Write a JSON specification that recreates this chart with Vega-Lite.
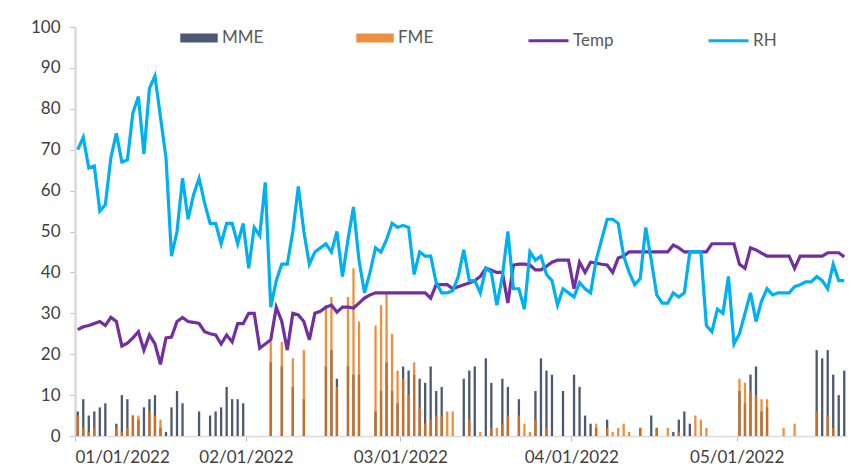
{
  "$schema": "https://vega.github.io/schema/vega-lite/v6.json",
  "width": 772,
  "height": 409,
  "autosize": {"type": "none"},
  "padding": {"left": 75, "top": 27, "right": 4, "bottom": 34},
  "background": "white",
  "config": {"view": {"stroke": null}, "font": "Lato"},
  "data": {"values": [
    {"date":"2022/01/01","MME":6,"FME":5,"Temp":26,"RH":70},
    {"date":"2022/01/02","MME":9,"FME":2,"Temp":26.7,"RH":73},
    {"date":"2022/01/03","MME":5,"FME":1,"Temp":27,"RH":65.5},
    {"date":"2022/01/04","MME":6,"FME":2,"Temp":27.5,"RH":66},
    {"date":"2022/01/05","MME":7,"FME":0,"Temp":28,"RH":55},
    {"date":"2022/01/06","MME":8,"FME":0,"Temp":27,"RH":56.5},
    {"date":"2022/01/07","MME":0,"FME":0,"Temp":29,"RH":68},
    {"date":"2022/01/08","MME":3,"FME":2,"Temp":28,"RH":74},
    {"date":"2022/01/09","MME":10,"FME":1,"Temp":22,"RH":67},
    {"date":"2022/01/10","MME":9,"FME":2,"Temp":22.7,"RH":67.5},
    {"date":"2022/01/11","MME":5,"FME":5,"Temp":24,"RH":79},
    {"date":"2022/01/12","MME":4,"FME":5,"Temp":25.5,"RH":83},
    {"date":"2022/01/13","MME":7,"FME":0,"Temp":21,"RH":69},
    {"date":"2022/01/14","MME":9,"FME":6,"Temp":24.7,"RH":85},
    {"date":"2022/01/15","MME":10,"FME":5,"Temp":22.5,"RH":88},
    {"date":"2022/01/16","MME":2,"FME":4,"Temp":17.5,"RH":78},
    {"date":"2022/01/17","MME":1,"FME":0,"Temp":24,"RH":68},
    {"date":"2022/01/18","MME":7,"FME":0,"Temp":24.2,"RH":44},
    {"date":"2022/01/19","MME":11,"FME":0,"Temp":28,"RH":50},
    {"date":"2022/01/20","MME":8,"FME":0,"Temp":29,"RH":63},
    {"date":"2022/01/21","MME":0,"FME":0,"Temp":28,"RH":53},
    {"date":"2022/01/22","MME":0,"FME":0,"Temp":27.8,"RH":59},
    {"date":"2022/01/23","MME":6,"FME":0,"Temp":27.5,"RH":63},
    {"date":"2022/01/24","MME":0,"FME":0,"Temp":25.5,"RH":57},
    {"date":"2022/01/25","MME":5,"FME":0,"Temp":25,"RH":52},
    {"date":"2022/01/26","MME":6,"FME":0,"Temp":24.7,"RH":52},
    {"date":"2022/01/27","MME":7,"FME":0,"Temp":22.5,"RH":47},
    {"date":"2022/01/28","MME":12,"FME":0,"Temp":24.7,"RH":52},
    {"date":"2022/01/29","MME":9,"FME":0,"Temp":23,"RH":52},
    {"date":"2022/01/30","MME":9,"FME":0,"Temp":27.5,"RH":47},
    {"date":"2022/01/31","MME":8,"FME":0,"Temp":27.5,"RH":52},
    {"date":"2022/02/01","MME":0,"FME":0,"Temp":30,"RH":41},
    {"date":"2022/02/02","MME":0,"FME":0,"Temp":30,"RH":51},
    {"date":"2022/02/03","MME":0,"FME":0,"Temp":21.5,"RH":49},
    {"date":"2022/02/04","MME":0,"FME":0,"Temp":22.5,"RH":62},
    {"date":"2022/02/05","MME":18,"FME":23,"Temp":23.5,"RH":31.5},
    {"date":"2022/02/06","MME":0,"FME":0,"Temp":31.5,"RH":38},
    {"date":"2022/02/07","MME":17,"FME":23,"Temp":28,"RH":42},
    {"date":"2022/02/08","MME":0,"FME":0,"Temp":21,"RH":42},
    {"date":"2022/02/09","MME":12,"FME":19,"Temp":30,"RH":50},
    {"date":"2022/02/10","MME":0,"FME":0,"Temp":29.6,"RH":61},
    {"date":"2022/02/11","MME":9,"FME":21,"Temp":28,"RH":50},
    {"date":"2022/02/12","MME":0,"FME":0,"Temp":23.5,"RH":42},
    {"date":"2022/02/13","MME":0,"FME":0,"Temp":30,"RH":45},
    {"date":"2022/02/14","MME":0,"FME":0,"Temp":30.5,"RH":46},
    {"date":"2022/02/15","MME":17,"FME":32,"Temp":31.5,"RH":47},
    {"date":"2022/02/16","MME":21,"FME":34,"Temp":32,"RH":45},
    {"date":"2022/02/17","MME":14,"FME":12,"Temp":30.3,"RH":50},
    {"date":"2022/02/18","MME":0,"FME":0,"Temp":31.5,"RH":39},
    {"date":"2022/02/19","MME":17,"FME":34,"Temp":31.5,"RH":48},
    {"date":"2022/02/20","MME":15,"FME":41,"Temp":31.3,"RH":56},
    {"date":"2022/02/21","MME":15,"FME":28,"Temp":32.5,"RH":43},
    {"date":"2022/02/22","MME":0,"FME":0,"Temp":33.7,"RH":35},
    {"date":"2022/02/23","MME":0,"FME":0,"Temp":34.5,"RH":40},
    {"date":"2022/02/24","MME":6,"FME":27,"Temp":35,"RH":46},
    {"date":"2022/02/25","MME":11,"FME":32,"Temp":35,"RH":45},
    {"date":"2022/02/26","MME":18,"FME":35,"Temp":35,"RH":48},
    {"date":"2022/02/27","MME":11,"FME":25,"Temp":35,"RH":52},
    {"date":"2022/02/28","MME":8,"FME":16,"Temp":35,"RH":51},
    {"date":"2022/03/01","MME":17,"FME":14,"Temp":35,"RH":51.5},
    {"date":"2022/03/02","MME":16,"FME":10,"Temp":35,"RH":51},
    {"date":"2022/03/03","MME":15,"FME":18,"Temp":35,"RH":39.5},
    {"date":"2022/03/04","MME":14,"FME":7,"Temp":35,"RH":45},
    {"date":"2022/03/05","MME":13,"FME":3,"Temp":35,"RH":44},
    {"date":"2022/03/06","MME":17,"FME":4,"Temp":33.7,"RH":44},
    {"date":"2022/03/07","MME":11,"FME":5,"Temp":37,"RH":37.5},
    {"date":"2022/03/08","MME":12,"FME":5,"Temp":37,"RH":35},
    {"date":"2022/03/09","MME":0,"FME":6,"Temp":37,"RH":35},
    {"date":"2022/03/10","MME":0,"FME":6,"Temp":36,"RH":35.5},
    {"date":"2022/03/11","MME":0,"FME":0,"Temp":36.5,"RH":39},
    {"date":"2022/03/12","MME":14,"FME":0,"Temp":37,"RH":45.5},
    {"date":"2022/03/13","MME":16,"FME":4,"Temp":37.4,"RH":38},
    {"date":"2022/03/14","MME":17,"FME":0,"Temp":38,"RH":38},
    {"date":"2022/03/15","MME":0,"FME":1,"Temp":39,"RH":35},
    {"date":"2022/03/16","MME":19,"FME":0,"Temp":41,"RH":41},
    {"date":"2022/03/17","MME":13,"FME":2,"Temp":40.5,"RH":40},
    {"date":"2022/03/18","MME":0,"FME":2,"Temp":40,"RH":32},
    {"date":"2022/03/19","MME":14,"FME":3,"Temp":40,"RH":39},
    {"date":"2022/03/20","MME":12,"FME":5,"Temp":32.5,"RH":50},
    {"date":"2022/03/21","MME":0,"FME":0,"Temp":41.8,"RH":36},
    {"date":"2022/03/22","MME":9,"FME":5,"Temp":42,"RH":36},
    {"date":"2022/03/23","MME":0,"FME":3,"Temp":42,"RH":31},
    {"date":"2022/03/24","MME":0,"FME":1,"Temp":41.8,"RH":45},
    {"date":"2022/03/25","MME":11,"FME":4,"Temp":40.6,"RH":43},
    {"date":"2022/03/26","MME":19,"FME":0,"Temp":40.6,"RH":44},
    {"date":"2022/03/27","MME":16,"FME":2,"Temp":41.5,"RH":39.5},
    {"date":"2022/03/28","MME":15,"FME":0,"Temp":42.5,"RH":38},
    {"date":"2022/03/29","MME":0,"FME":0,"Temp":43,"RH":32},
    {"date":"2022/03/30","MME":11,"FME":0,"Temp":43,"RH":36},
    {"date":"2022/03/31","MME":0,"FME":0,"Temp":43,"RH":35},
    {"date":"2022/04/01","MME":15,"FME":0,"Temp":36,"RH":34},
    {"date":"2022/04/02","MME":12,"FME":0,"Temp":42.5,"RH":37.5},
    {"date":"2022/04/03","MME":5,"FME":0,"Temp":40,"RH":36},
    {"date":"2022/04/04","MME":3,"FME":0,"Temp":42.5,"RH":35},
    {"date":"2022/04/05","MME":2,"FME":3,"Temp":42.3,"RH":43},
    {"date":"2022/04/06","MME":0,"FME":0,"Temp":42,"RH":48},
    {"date":"2022/04/07","MME":4,"FME":2,"Temp":41.8,"RH":53},
    {"date":"2022/04/08","MME":0,"FME":1,"Temp":40,"RH":53},
    {"date":"2022/04/09","MME":0,"FME":2,"Temp":43.5,"RH":52},
    {"date":"2022/04/10","MME":0,"FME":3,"Temp":44,"RH":44},
    {"date":"2022/04/11","MME":0,"FME":1,"Temp":45,"RH":40},
    {"date":"2022/04/12","MME":0,"FME":0,"Temp":45,"RH":37},
    {"date":"2022/04/13","MME":2,"FME":2,"Temp":45,"RH":38.5},
    {"date":"2022/04/14","MME":0,"FME":0,"Temp":45,"RH":51},
    {"date":"2022/04/15","MME":5,"FME":0,"Temp":45,"RH":43},
    {"date":"2022/04/16","MME":2,"FME":2,"Temp":45,"RH":34.5},
    {"date":"2022/04/17","MME":0,"FME":0,"Temp":45,"RH":32.5},
    {"date":"2022/04/18","MME":0,"FME":2,"Temp":45,"RH":32.5},
    {"date":"2022/04/19","MME":1,"FME":0,"Temp":46.7,"RH":35},
    {"date":"2022/04/20","MME":4,"FME":1,"Temp":46,"RH":34},
    {"date":"2022/04/21","MME":6,"FME":0,"Temp":45,"RH":35},
    {"date":"2022/04/22","MME":3,"FME":0,"Temp":45,"RH":45},
    {"date":"2022/04/23","MME":0,"FME":5,"Temp":45,"RH":45},
    {"date":"2022/04/24","MME":0,"FME":4,"Temp":45,"RH":45},
    {"date":"2022/04/25","MME":0,"FME":2,"Temp":45,"RH":27},
    {"date":"2022/04/26","MME":0,"FME":0,"Temp":47,"RH":25.5},
    {"date":"2022/04/27","MME":0,"FME":0,"Temp":47,"RH":31},
    {"date":"2022/04/28","MME":0,"FME":0,"Temp":47,"RH":30},
    {"date":"2022/04/29","MME":0,"FME":0,"Temp":47,"RH":39},
    {"date":"2022/04/30","MME":0,"FME":0,"Temp":47,"RH":22.5},
    {"date":"2022/05/01","MME":11,"FME":14,"Temp":42,"RH":25},
    {"date":"2022/05/02","MME":8,"FME":13,"Temp":41,"RH":30},
    {"date":"2022/05/03","MME":15,"FME":11,"Temp":46,"RH":35},
    {"date":"2022/05/04","MME":17,"FME":10,"Temp":45.5,"RH":28},
    {"date":"2022/05/05","MME":6,"FME":9,"Temp":44.7,"RH":33},
    {"date":"2022/05/06","MME":7,"FME":9,"Temp":44,"RH":36},
    {"date":"2022/05/07","MME":0,"FME":0,"Temp":44,"RH":34.5},
    {"date":"2022/05/08","MME":0,"FME":0,"Temp":44,"RH":35},
    {"date":"2022/05/09","MME":0,"FME":2,"Temp":44,"RH":35},
    {"date":"2022/05/10","MME":0,"FME":0,"Temp":44,"RH":35},
    {"date":"2022/05/11","MME":0,"FME":3,"Temp":41,"RH":36.5},
    {"date":"2022/05/12","MME":0,"FME":0,"Temp":44,"RH":37},
    {"date":"2022/05/13","MME":0,"FME":0,"Temp":44,"RH":37.7},
    {"date":"2022/05/14","MME":0,"FME":0,"Temp":44,"RH":37.7},
    {"date":"2022/05/15","MME":21,"FME":6,"Temp":44,"RH":39},
    {"date":"2022/05/16","MME":19,"FME":0,"Temp":44,"RH":38},
    {"date":"2022/05/17","MME":21,"FME":5,"Temp":44.8,"RH":36},
    {"date":"2022/05/18","MME":15,"FME":2,"Temp":44.8,"RH":42},
    {"date":"2022/05/19","MME":10,"FME":0,"Temp":44.8,"RH":38},
    {"date":"2022/05/20","MME":16,"FME":0,"Temp":43.8,"RH":38}
  ]},
  "layer": [
    {
      "mark": {"type": "bar", "width": 2.3, "opacity": 0.8},
      "encoding": {
        "x": {
          "field": "date", "type": "temporal", "timeUnit": "yearmonthdate", "bandPosition": 0.27,
          "scale": {"domain": [{"year": 2022, "month": 1, "date": 1}, {"year": 2022, "month": 5, "date": 21}], "padding": 0, "nice": false},
          "axis": {
            "title": null, "grid": false, "format": "%m/%d/%Y",
            "values": [{"year": 2022, "month": 1, "date": 1}, {"year": 2022, "month": 2, "date": 1}, {"year": 2022, "month": 3, "date": 1}, {"year": 2022, "month": 4, "date": 1}, {"year": 2022, "month": 5, "date": 1}],
            "labelFontSize": 17, "labelColor": "#404040", "labelPadding": 8,
            "tickSize": 5, "tickColor": "#bfbfbf", "domainColor": "#d9d9d9", "domainWidth": 1.5
          }
        },
        "y": {
          "field": "MME", "type": "quantitative",
          "scale": {"domain": [0, 100], "nice": false},
          "axis": {
            "title": null, "grid": false, "values": [0, 10, 20, 30, 40, 50, 60, 70, 80, 90, 100],
            "labelFontSize": 17, "labelColor": "#404040", "labelPadding": 10,
            "tickSize": 5, "tickColor": "#bfbfbf", "domainColor": "#d9d9d9", "domainWidth": 2.5
          }
        },
        "fill": {
          "datum": "MME", "type": "nominal",
          "scale": {"domain": ["MME", "FME"], "range": ["#1f2f4d", "#e8730f"]},
          "legend": {
            "orient": "none", "legendX": 105, "legendY": -8, "direction": "horizontal", "title": null,
            "symbolType": "M-1,-0.24H1V0.24H-1Z", "symbolSize": 1400, "symbolStrokeWidth": 0, "symbolOpacity": 1,
            "labelFontSize": 17, "labelColor": "#595959", "labelOffset": 4, "columnPadding": 92
          }
        }
      }
    },
    {
      "mark": {"type": "bar", "width": 2.3, "opacity": 0.8},
      "encoding": {
        "x": {"field": "date", "type": "temporal", "timeUnit": "yearmonthdate", "bandPosition": 0.73},
        "y": {"field": "FME", "type": "quantitative"},
        "fill": {"datum": "FME", "type": "nominal"}
      }
    },
    {
      "mark": {"type": "line", "strokeWidth": 3.2},
      "encoding": {
        "x": {"field": "date", "type": "temporal", "timeUnit": "yearmonthdate", "bandPosition": 0.5},
        "y": {"field": "Temp", "type": "quantitative"},
        "stroke": {
          "datum": "Temp", "type": "nominal",
          "scale": {"domain": ["Temp", "RH"], "range": ["#7030a0", "#00b0f0"]},
          "legend": {
            "orient": "none", "legendX": 452, "legendY": -8, "direction": "horizontal", "title": null,
            "symbolType": "stroke", "symbolSize": 1600, "symbolStrokeWidth": 3,
            "labelFontSize": 17, "labelColor": "#595959", "labelOffset": 3, "columnPadding": 88
          }
        }
      }
    },
    {
      "mark": {"type": "line", "strokeWidth": 3.2},
      "encoding": {
        "x": {"field": "date", "type": "temporal", "timeUnit": "yearmonthdate", "bandPosition": 0.5},
        "y": {"field": "RH", "type": "quantitative"},
        "stroke": {"datum": "RH", "type": "nominal"}
      }
    }
  ]
}
